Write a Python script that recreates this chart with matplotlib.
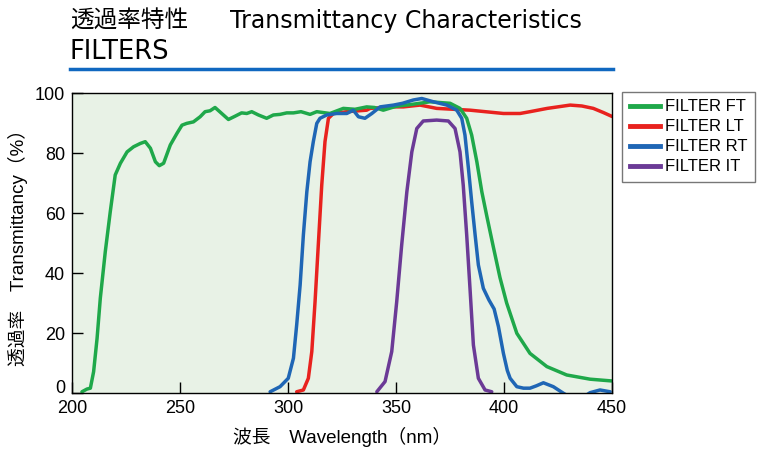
"""Transmittancy characteristics of the four filters."""

import matplotlib
matplotlib.use("Agg")
import matplotlib.pyplot as plt
from matplotlib.lines import Line2D
from matplotlib.transforms import ScaledTranslation

plt.rcParams["font.family"] = ["Liberation Sans", "Noto Sans CJK JP", "DejaVu Sans"]

# FILTER FT (green)
ft_nm = [204.6, 206.9, 208.5, 210, 211.6, 213.1, 215.4, 217.7, 220, 222.4, 225.5, 228.5,
         231.6, 233.9, 236.3, 238.6, 240.4, 242.4, 245.5, 248.6, 250.9, 253.1, 256.2, 259.3,
         261.6, 263.9, 266.2, 269.3, 272.4, 275.5, 278.5, 280.9, 283.2, 286.3, 290.1, 293.2,
         296.3, 299.4, 302.5, 306, 310.2, 313.3, 319.4, 325.6, 331, 336.4, 340, 344.1,
         350, 357, 365.7, 375, 379.6, 382.7, 385, 387.4, 389.7, 392, 395, 398.1,
         401.2, 405.9, 412, 419.8, 429, 439.8, 450]
ft_t = [0.4, 1.3, 1.6, 7.1, 18.2, 31.6, 47.1, 60.4, 72.7, 76.6, 80.4, 82.1,
        83.2, 83.8, 81.6, 77.1, 75.8, 76.6, 82.7, 86.6, 89.3, 89.9, 90.4, 92.1,
        93.8, 94.1, 95.2, 93.2, 91.2, 92.3, 93.4, 93.2, 93.8, 92.7, 91.6, 92.7,
        92.9, 93.4, 93.4, 93.8, 92.9, 93.8, 93.2, 94.9, 94.6, 95.4, 95.2, 94.3,
        95.6, 96.2, 97.1, 96.6, 94.9, 91.6, 86, 77.1, 67.1, 59, 48.8, 38.5,
        30, 19.9, 13.2, 8.8, 6, 4.6, 4]

# FILTER LT (red)
lt_nm = [304, 307.1, 309.4, 311, 312.5, 314, 315.6, 317.1, 318.7, 321, 327.2, 336.4,
         338, 348.8, 353.4, 361.1, 368.8, 384.3, 399.7, 407.4, 412, 420, 430.6, 436,
         441.3, 446, 450]
lt_t = [0.4, 1, 4.9, 13.8, 30.4, 49.3, 69.3, 83.8, 91.6, 93.2, 93.8, 94.3,
        94.9, 95.4, 95.4, 96, 94.9, 94.3, 93.2, 93.2, 93.8, 94.9, 96, 95.7,
        94.9, 93.5, 92.2]

# FILTER RT (blue)
rt_nm = [291.7, 296.3, 300.1, 302.5, 304, 305.6, 307.1, 308.7, 310.2, 311.7, 313.3, 314.8,
         317.9, 322.5, 327.2, 330.2, 332.6, 335.6, 338.8, 342.6, 348.8, 353, 358, 361.9,
         367.3, 373.5, 378.1, 380.4, 381.9, 383.5, 385, 386.6, 388.1, 390.4, 393, 395.4,
         397.4, 399.7, 401.5, 402.8, 405.9, 409, 412, 415, 418.2, 422.8, 427.5, 430,
         434, 437.5, 439.8, 444.4, 449.1]
rt_t = [0.4, 2.1, 4.9, 11.6, 22.7, 36, 52.7, 67.1, 77.1, 83.8, 89.9, 91.6,
        92.7, 93.2, 93.2, 94.3, 92.1, 91.6, 93.2, 95.4, 96, 96.6, 97.7, 98.2,
        97.1, 96, 94.3, 91.6, 86, 74.9, 63.8, 52.7, 42.7, 34.9, 31, 28,
        22.1, 13.2, 7.5, 4.9, 2.1, 1.6, 1.6, 2.4, 3.4, 2.1, -0.1, -1.2,
        -2, -1, 0.1, 1, 0.4]

# FILTER IT (purple)
it_nm = [341.1, 344.9, 348, 350.3, 352.6, 355, 357.3, 359.6, 362.6, 368.8, 374.2, 377.3,
         379.6, 381.1, 382.7, 384.3, 385.8, 388.1, 391.2, 394.3]
it_t = [0.4, 3.8, 13.8, 30.4, 49.3, 67.1, 80.4, 88.2, 90.7, 91, 90.7, 88.2,
        80.4, 69.3, 52.7, 34, 16, 4.9, 1, 0.4]

series = [
    ("FILTER FT", ft_nm, ft_t, "#1fa84a"),
    ("FILTER LT", lt_nm, lt_t, "#e8221e"),
    ("FILTER RT", rt_nm, rt_t, "#1f66b5"),
    ("FILTER IT", it_nm, it_t, "#6b3a96"),
]

fig = plt.figure(figsize=(7.58, 4.53), dpi=100)
ax = fig.add_axes([0.095, 0.1325, 0.7125, 0.662])
ax.set_facecolor("#e8f2e6")

# draw order as in the picture: green under, blue on top of red
for name, x, y, c in [series[3], series[1], series[0], series[2]]:
    ax.plot(x, y, color=c, lw=2.5, solid_capstyle="round", solid_joinstyle="round")

ax.set_xlim(200, 450)
ax.set_ylim(0, 100)
ax.set_xticks([200, 250, 300, 350, 400, 450])
ax.set_yticks([0, 20, 40, 60, 80, 100])
ax.tick_params(direction="in", length=8, width=1, labelsize=13, pad=5)
for s in ax.spines.values():
    s.set_linewidth(1)

# the "0" label sits a little above its tick, clear of "200"
fig.canvas.draw()
zero = ax.get_yticklabels()[0]
zero.set_transform(zero.get_transform() + ScaledTranslation(0, 5 / 72, fig.dpi_scale_trans))

ax.set_xlabel("波長\u3000Wavelength（nm）", fontsize=13.5, labelpad=7)
ax.set_ylabel("透過率\u3000Transmittancy（%）", fontsize=13.5, labelpad=5)

handles = [Line2D([], [], color=c, lw=3.5) for _, _, _, c in series]
leg = fig.legend(handles, [s[0] for s in series], loc="upper left",
                 bbox_to_anchor=(0.8206, 0.797), borderaxespad=0, fontsize=12,
                 handlelength=1.8, handletextpad=0.3, labelspacing=0.3, borderpad=0.45,
                 fancybox=False, framealpha=1, edgecolor="#777777")
leg.get_frame().set_linewidth(1)

fig.text(0.092, 0.953, "透過率特性", fontsize=17, va="center", ha="left",
         family="Noto Sans CJK JP")
fig.text(0.303, 0.953, "Transmittancy Characteristics", fontsize=17, va="center",
         ha="left", family="DejaVu Sans")
fig.text(0.092, 0.886, "FILTERS", fontsize=18.5, va="center", ha="left",
         family="DejaVu Sans")
fig.add_artist(Line2D([0.092, 0.809], [0.848, 0.848], color="#1068c0", lw=2.5))

fig.savefig("out.png", dpi=100)
